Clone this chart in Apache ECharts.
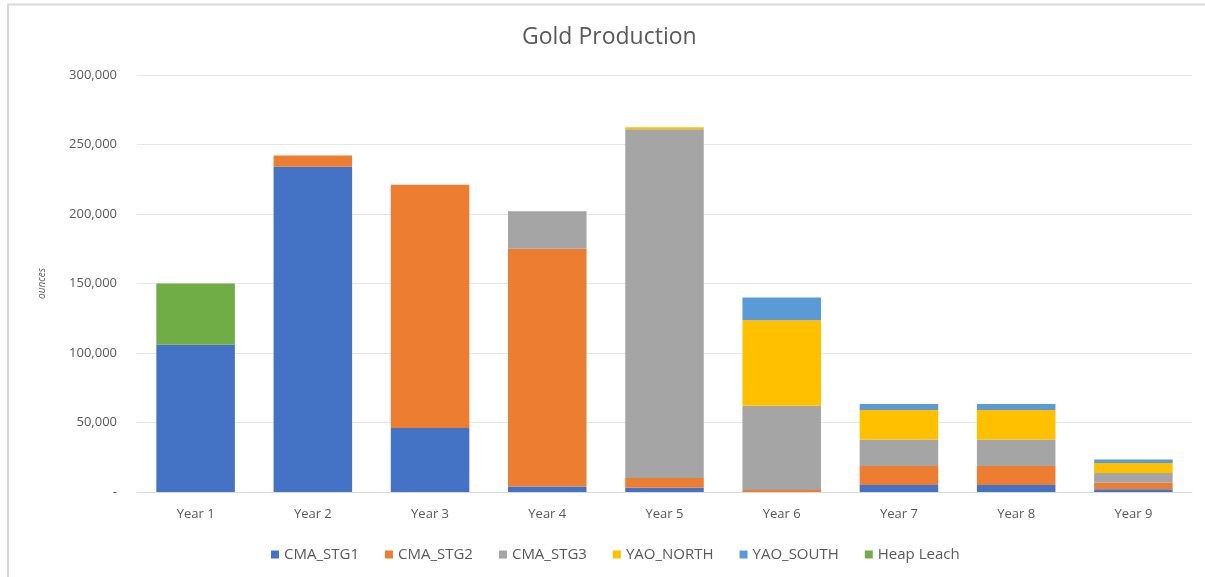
<!DOCTYPE html>
<html>
<head>
<meta charset="utf-8">
<script src="https://cdn.jsdelivr.net/npm/echarts@6/dist/echarts.min.js"></script>
<style>
html,body{margin:0;padding:0;background:#fff;}
#chart{width:1205px;height:577px;}
</style>
</head>
<body>
<div id="chart"></div>
<script>
var categories = ['Year 1','Year 2','Year 3','Year 4','Year 5','Year 6','Year 7','Year 8','Year 9'];
var seriesNames = ['CMA_STG1','CMA_STG2','CMA_STG3','YAO_NORTH','YAO_SOUTH','Heap Leach'];
var cmaStg1   = [106000, 234000, 46000, 4000, 3000, 0, 5000, 5000, 2000];
var cmaStg2   = [0, 8000, 175000, 171000, 7000, 1500, 13700, 13700, 4700];
var cmaStg3   = [0, 0, 0, 27000, 251000, 60500, 19000, 19000, 7000];
var yaoNorth  = [0, 0, 0, 0, 1500, 61500, 21300, 21300, 7200];
var yaoSouth  = [0, 0, 0, 0, 0, 16500, 4300, 4300, 2400];
var heapLeach = [44000, 0, 0, 0, 0, 0, 0, 0, 0];
var yTicks = [0, 50000, 100000, 150000, 200000, 250000, 300000];

var colors = ['#4472C4','#ED7D31','#A5A5A5','#FFC000','#5B9BD5','#70AD47'];
var dataSets = [cmaStg1, cmaStg2, cmaStg3, yaoNorth, yaoSouth, heapLeach];

var chart = echarts.init(document.getElementById('chart'));
var series = seriesNames.map(function(n, i){
  return {
    name: n, type: 'bar', stack: 'total', data: dataSets[i],
    barWidth: '67%',
    itemStyle: {color: colors[i]},
    emphasis: {disabled: true}
  };
});

chart.setOption({
  animation: false,
  backgroundColor: '#fff',
  title: {
    text: 'Gold Production', left: 517, top: 21,
    textStyle: {fontFamily: 'Open Sans', fontSize: 23, fontWeight: 'normal', color: '#595959'}
  },
  legend: {
    data: seriesNames, bottom: 10, left: 266,
    itemWidth: 8, itemHeight: 8, itemGap: 26, icon: 'rect',
    textStyle: {fontFamily: 'Open Sans', fontSize: 15, color: '#595959'}
  },
  grid: {left: 137, right: 13, top: 75, bottom: 85},
  xAxis: {
    type: 'category', data: categories,
    axisLine: {show: true, lineStyle: {color: '#d9d9d9'}},
    axisTick: {show: false},
    axisLabel: {fontFamily: 'Open Sans', fontSize: 13, color: '#595959', margin: 16}
  },
  yAxis: {
    type: 'value', min: yTicks[0], max: yTicks[yTicks.length-1], interval: 50000,
    name: 'ounces', nameLocation: 'middle', nameGap: 90, nameRotate: 90,
    nameTextStyle: {fontFamily: 'Open Sans', fontSize: 10, fontStyle: 'italic', color: '#595959'},
    axisLine: {show: false}, axisTick: {show: false},
    splitLine: {lineStyle: {color: '#e6e6e6'}},
    axisLabel: {
      fontFamily: 'Open Sans', fontSize: 13, color: '#595959', margin: 20,
      formatter: function(v){ return v === 0 ? '-' : v.toLocaleString('en-US'); }
    }
  },
  graphic: [
    {type: 'line', shape: {x1: 7, y1: 4.5, x2: 1205, y2: 4.5}, style: {stroke: '#d9d9d9', lineWidth: 2}, silent: true},
    {type: 'line', shape: {x1: 8, y1: 4, x2: 8, y2: 577}, style: {stroke: '#d9d9d9', lineWidth: 2}, silent: true}
  ],
  series: series
});
</script>
</body>
</html>
